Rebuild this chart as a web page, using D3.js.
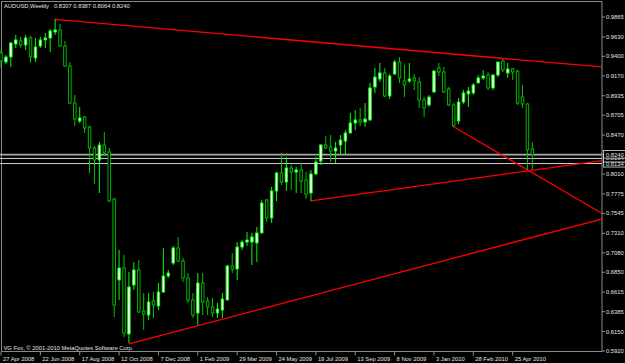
<!DOCTYPE html>
<html>
<head>
<meta charset="utf-8">
<script src="https://cdn.jsdelivr.net/npm/d3@7"></script>
<style>
  html, body { margin: 0; padding: 0; background: #000; }
  svg { display: block; }
  text { font-family: "Liberation Sans", Arial, sans-serif; font-size: 5.8px; fill: #e4e4e4; }
</style>
</head>
<body>
<script>
const width = 625;
const height = 363;

// weekly AUDUSD bars, 27 Apr 2008 .. 23 May 2010
const open = [
  0.9440, 0.9334, 0.9393, 0.9546, 0.9582, 0.9535, 0.9617, 0.9381, 0.9523, 0.9594,
  0.9617, 0.9688, 0.9712, 0.9523, 0.9286, 0.8849, 0.8637, 0.8684, 0.8566, 0.8318,
  0.8176, 0.8353, 0.8271, 0.7715, 0.6759, 0.6900, 0.6121, 0.6700, 0.6877, 0.6392,
  0.6345, 0.6511, 0.6452, 0.6617, 0.6806, 0.6959, 0.7137, 0.6983, 0.6782, 0.6522,
  0.6369, 0.6723, 0.6511, 0.6440, 0.6369, 0.6404, 0.6522, 0.6924, 0.6889, 0.7148,
  0.7207, 0.7207, 0.7196, 0.7314, 0.7704, 0.7491, 0.7810, 0.8023, 0.7916, 0.8082,
  0.8034, 0.8058, 0.7940, 0.7786, 0.8011, 0.8164, 0.8353, 0.8330, 0.8282, 0.8353,
  0.8400, 0.8495, 0.8613, 0.8649, 0.8625, 0.8649, 0.9038, 0.9133, 0.9204, 0.8932,
  0.9192, 0.9334, 0.9109, 0.9109, 0.9145, 0.9097, 0.8885, 0.8826, 0.8979, 0.9263,
  0.9216, 0.9015, 0.8826, 0.8637, 0.8861, 0.8956, 0.8968, 0.9086, 0.9145, 0.9180,
  0.9027, 0.9180, 0.9346, 0.9204, 0.9251, 0.9227, 0.8920, 0.8838, 0.8307
];
const high = [
  0.9475, 0.9416, 0.9570, 0.9653, 0.9629, 0.9653, 0.9641, 0.9617, 0.9629, 0.9676,
  0.9724, 0.9842, 0.9783, 0.9582, 0.9334, 0.8944, 0.8802, 0.8696, 0.8578, 0.8341,
  0.8389, 0.8507, 0.8318, 0.7727, 0.7113, 0.7054, 0.6853, 0.6971, 0.6995, 0.6605,
  0.6605, 0.6617, 0.6723, 0.7137, 0.6877, 0.7160, 0.7267, 0.7019, 0.6841, 0.6605,
  0.6841, 0.6841, 0.6558, 0.6546, 0.6487, 0.6605, 0.6936, 0.7078, 0.7207, 0.7231,
  0.7326, 0.7314, 0.7385, 0.7704, 0.7715, 0.7857, 0.8034, 0.8259, 0.8212, 0.8117,
  0.8093, 0.8141, 0.8034, 0.8058, 0.8212, 0.8365, 0.8460, 0.8471, 0.8389, 0.8471,
  0.8530, 0.8731, 0.8767, 0.8790, 0.8849, 0.9086, 0.9263, 0.9322, 0.9263, 0.9192,
  0.9357, 0.9393, 0.9298, 0.9322, 0.9192, 0.9156, 0.8920, 0.8944, 0.9239, 0.9322,
  0.9275, 0.9038, 0.8849, 0.8908, 0.9003, 0.9038, 0.9086, 0.9180, 0.9239, 0.9216,
  0.9192, 0.9334, 0.9369, 0.9322, 0.9263, 0.9239, 0.9062, 0.8849, 0.8387
];
const low = [
  0.9263, 0.9310, 0.9275, 0.9499, 0.9499, 0.9475, 0.9322, 0.9334, 0.9499, 0.9499,
  0.9452, 0.9653, 0.9511, 0.9275, 0.8838, 0.8578, 0.8613, 0.8495, 0.8023, 0.7893,
  0.7786, 0.8235, 0.7680, 0.6322, 0.6522, 0.6085, 0.6014, 0.6641, 0.6369, 0.6168,
  0.6286, 0.6310, 0.6404, 0.6605, 0.6782, 0.6936, 0.6971, 0.6735, 0.6487, 0.6310,
  0.6227, 0.6345, 0.6345, 0.6322, 0.6310, 0.6310, 0.6522, 0.6841, 0.6759, 0.7113,
  0.7160, 0.6936, 0.6971, 0.7314, 0.7444, 0.7432, 0.7692, 0.7881, 0.7810, 0.7822,
  0.7786, 0.7786, 0.7715, 0.7692, 0.7999, 0.8117, 0.8306, 0.8152, 0.8141, 0.8235,
  0.8235, 0.8495, 0.8530, 0.8578, 0.8566, 0.8637, 0.8968, 0.9097, 0.8920, 0.8897,
  0.9180, 0.9086, 0.8920, 0.9086, 0.9003, 0.8790, 0.8684, 0.8802, 0.8968, 0.9168,
  0.8968, 0.8814, 0.8566, 0.8601, 0.8838, 0.8802, 0.8944, 0.9086, 0.9121, 0.9003,
  0.9003, 0.9156, 0.9216, 0.9145, 0.9121, 0.8826, 0.8790, 0.8058, 0.8064
];
const close = [
  0.9346, 0.9393, 0.9558, 0.9594, 0.9535, 0.9617, 0.9393, 0.9511, 0.9594, 0.9617,
  0.9700, 0.9712, 0.9523, 0.9286, 0.8849, 0.8660, 0.8672, 0.8554, 0.8318, 0.8176,
  0.8353, 0.8259, 0.7692, 0.6463, 0.6900, 0.6133, 0.6676, 0.6877, 0.6381, 0.6357,
  0.6499, 0.6463, 0.6617, 0.6806, 0.6841, 0.7137, 0.6983, 0.6782, 0.6522, 0.6345,
  0.6723, 0.6499, 0.6440, 0.6369, 0.6416, 0.6534, 0.6924, 0.6889, 0.7148, 0.7207,
  0.7231, 0.7267, 0.7314, 0.7668, 0.7491, 0.7810, 0.8023, 0.7916, 0.8082, 0.8034,
  0.8058, 0.7928, 0.7774, 0.8011, 0.8152, 0.8353, 0.8318, 0.8282, 0.8318, 0.8412,
  0.8495, 0.8613, 0.8649, 0.8625, 0.8660, 0.9027, 0.9156, 0.9204, 0.8932, 0.9168,
  0.9334, 0.9145, 0.9062, 0.9133, 0.9109, 0.8885, 0.8790, 0.8920, 0.9227, 0.9216,
  0.8979, 0.8826, 0.8578, 0.8861, 0.8968, 0.8991, 0.9062, 0.9145, 0.9168, 0.9027,
  0.9180, 0.9334, 0.9239, 0.9251, 0.9216, 0.8849, 0.8838, 0.8294, 0.8240
];

// time axis labels (every 8th bar)
const timeTickBars = [0, 8, 16, 24, 32, 40, 48, 56, 64, 72, 80, 88, 96, 104];
const timeTickLabels = ['27 Apr 2008', '22 Jun 2008', '17 Aug 2008', '12 Oct 2008', '7 Dec 2008',
  '1 Feb 2009', '29 Mar 2009', '24 May 2009', '19 Jul 2009', '13 Sep 2009', '8 Nov 2009',
  '3 Jan 2010', '28 Feb 2010', '25 Apr 2010'];

const priceTicks = [0.9865, 0.9630, 0.9400, 0.9170, 0.8935, 0.8705, 0.8470, 0.8240, 0.8010,
  0.7775, 0.7545, 0.7310, 0.7080, 0.6850, 0.6615, 0.6385, 0.6150, 0.5920];

// horizontal lines: bid + two user lines
const hLinePrices = [0.8240, 0.8194, 0.8134];

// red trend lines [bar, price] -> [bar, price]
const trendLines = [
  [[11, 0.9836], [122.1, 0.9275]],
  [[92, 0.8569], [122.1, 0.7547]],
  [[63, 0.7692], [122.1, 0.8168]],
  [[26, 0.6003], [122.1, 0.7479]],
];

const svg = d3.select('body').append('svg')
  .attr('width', width)
  .attr('height', height);

const plot = { left: 1.5, top: 1.5, right: 602, bottom: 351.5 };

const x = d3.scaleLinear().domain([0, 122]).range([1, 601.24]);
const y = d3.scaleLinear().domain([0.5920, 0.9865]).range([351, 17]);

svg.append('defs').append('clipPath').attr('id', 'clip')
  .append('rect')
  .attr('x', 0).attr('y', plot.top)
  .attr('width', plot.right).attr('height', plot.bottom - plot.top);

// Frame

svg.append('path')
  .attr('d', `M${plot.left},${plot.bottom}V${plot.top}H${plot.right}V${plot.bottom}H${plot.left}`)
  .attr('fill', 'none')
  .attr('stroke', '#8c8c8c')
  .attr('stroke-width', 1);

const g = svg.append('g').attr('clip-path', 'url(#clip)');

// Horizontal price lines

g.selectAll('line.hline')
  .data(hLinePrices)
  .join('line')
  .attr('class', 'hline')
  .attr('x1', 0).attr('x2', plot.right)
  .attr('y1', d => y(d)).attr('y2', d => y(d))
  .attr('stroke', (d, i) => i === 0 ? '#a8a8a8' : '#d0d0d0')
  .attr('stroke-width', (d, i) => i === 0 ? 1.6 : 1);

// Trend lines

const line = d3.line().x(d => x(d[0])).y(d => y(d[1]));
g.selectAll('path.trend')
  .data(trendLines)
  .join('path')
  .attr('class', 'trend')
  .attr('d', line)
  .attr('fill', 'none')
  .attr('stroke', '#ff0000')
  .attr('stroke-width', 1.3);

// Candles

const bars = d3.range(open.length);
const bull = i => close[i] >= open[i];

g.selectAll('line.wick')
  .data(bars)
  .join('line')
  .attr('class', 'wick')
  .attr('x1', i => x(i)).attr('x2', i => x(i))
  .attr('y1', i => y(high[i])).attr('y2', i => y(low[i]))
  .attr('stroke', i => bull(i) ? '#00ff00' : '#00c400')
  .attr('stroke-width', 1);

const bodyW = 2.5;
g.selectAll('rect.body')
  .data(bars)
  .join('rect')
  .attr('class', 'body')
  .attr('x', i => x(i) - bodyW / 2)
  .attr('width', bodyW)
  .attr('y', i => y(Math.max(open[i], close[i])))
  .attr('height', i => Math.max(0.6, Math.abs(y(open[i]) - y(close[i]))))
  .attr('fill', i => bull(i) ? '#ffffff' : '#000000')
  .attr('stroke', i => bull(i) ? '#00ff00' : '#00c400')
  .attr('stroke-width', 0.9);

// Price axis (the bid value is shown in its own box, so its plain label is skipped)

const yAxis = svg.append('g');
yAxis.selectAll('line')
  .data(priceTicks)
  .join('line')
  .attr('x1', plot.right).attr('x2', plot.right + 3)
  .attr('y1', d => y(d)).attr('y2', d => y(d))
  .attr('stroke', '#8c8c8c');
yAxis.selectAll('text')
  .data(priceTicks.filter(d => !hLinePrices.includes(d)))
  .join('text')
  .attr('x', plot.right + 4)
  .attr('y', d => y(d) + 2)
  .text(d => d.toFixed(4));

// Price labels of the horizontal lines (drawn bottom-up so the bid sits on top)

const labelData = hLinePrices.slice().reverse();
const labels = svg.append('g').selectAll('g')
  .data(labelData)
  .join('g')
  .attr('transform', d => `translate(${plot.right + 1.5},${y(d)})`);
labels.append('rect')
  .attr('x', 0).attr('y', -4)
  .attr('width', 22).attr('height', 7.5)
  .attr('fill', '#000')
  .attr('stroke', '#e0e0e0')
  .attr('stroke-width', 0.8);
labels.append('text')
  .attr('x', 2.5).attr('y', 2)
  .text(d => d.toFixed(4));

// Time axis

const xAxis = svg.append('g');
xAxis.selectAll('line')
  .data(timeTickBars)
  .join('line')
  .attr('x1', d => x(d)).attr('x2', d => x(d))
  .attr('y1', plot.bottom).attr('y2', plot.bottom + 4)
  .attr('stroke', '#8c8c8c');
xAxis.selectAll('text')
  .data(timeTickBars)
  .join('text')
  .attr('x', d => x(d) + 2)
  .attr('y', 360.5)
  .text((d, i) => timeTickLabels[i]);

// Header and copyright

svg.append('text').attr('x', 4).attr('y', 8).text('AUDUSD,Weekly');
svg.append('text').attr('x', 54).attr('y', 8)
  .text([open, high, low, close].map(s => s[s.length - 1].toFixed(4)).join(' '));
svg.append('text').attr('x', 3.5).attr('y', 349.5)
  .text('VG Fox, \u00a9 2001-2010 MetaQuotes Software Corp.');
</script>
</body>
</html>
